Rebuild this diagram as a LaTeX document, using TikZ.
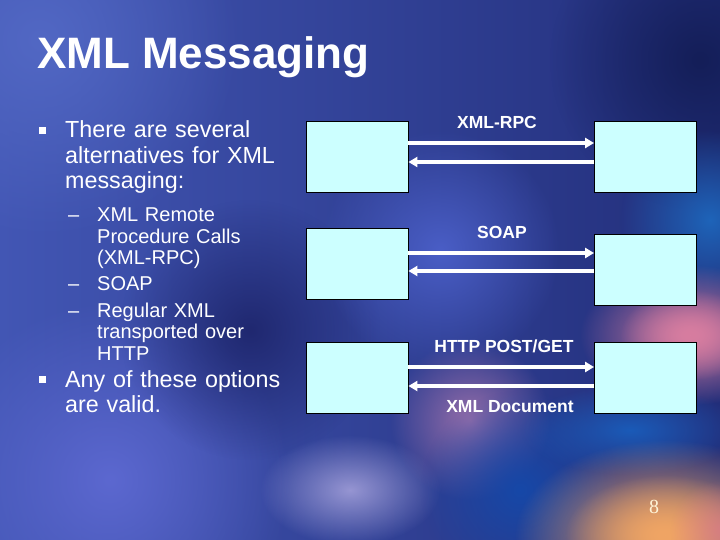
\documentclass[tikz,border=0pt]{standalone}
\usepackage{fontspec}
\setmainfont{Liberation Sans}
\newfontfamily\numfont{Liberation Serif}
\usetikzlibrary{arrows.meta,fadings}

\definecolor{fondoizq}{RGB}{66,86,180}
\definecolor{fondoder}{RGB}{34,46,122}
\definecolor{cian}{RGB}{204,255,255}
\definecolor{crema}{RGB}{255,244,215}

\tikzfading[name=difuso, inner color=transparent!0, outer color=transparent!100]

\begin{document}
\begin{tikzpicture}[x=1pt,y=-1pt,
        caja/.style={draw=black, line width=0.8pt, fill=cian, minimum width=102pt, minimum height=71pt, inner sep=0pt},
        flecha/.style={draw=white, line width=4pt, -{Triangle[length=9pt,width=10pt]}},
        etiqueta/.style={text=white, font=\bfseries\fontsize{17.5}{19}\selectfont, inner sep=0pt, anchor=base},
        vineta/.style={text=white, font=\fontsize{23.3}{25.5}\selectfont, inner sep=0pt, anchor=base west, text width=250pt, align=left},
        subvineta/.style={text=white, font=\fontsize{20}{21.5}\selectfont, inner sep=0pt, anchor=base west, text width=180pt, align=left},
        mancha/.style={path fading=difuso}
    ]
    % --- FONDO ---
    \useasboundingbox (0,0) rectangle (720,540);
    \shade[left color=fondoizq, right color=fondoder] (0,0) rectangle (720,540);
    \fill[color={rgb,255:red,82;green,104;blue,196}, mancha] (40,40) circle (200);
    \fill[color={rgb,255:red,92;green,104;blue,208}, mancha] (110,480) circle (180);
    \fill[color={rgb,255:red,26;green,32;blue,100}, opacity=0.8, mancha] (250,330) circle (130);
    \fill[color={rgb,255:red,74;green,94;blue,198}, mancha] (440,250) circle (120);
    \fill[color={rgb,255:red,20;green,30;blue,88}, mancha] (700,60) circle (150);
    \fill[color={rgb,255:red,30;green,100;blue,185}, mancha] (710,220) circle (90);
    \fill[color={rgb,255:red,175;green,170;blue,225}, opacity=0.8, mancha] (350,490) ellipse (90 and 55);
    \fill[color={rgb,255:red,150;green,110;blue,170}, mancha] (470,420) circle (80);
    \fill[color={rgb,255:red,215;green,125;blue,160}, mancha] (690,335) ellipse (110 and 70);
    \fill[color={rgb,255:red,215;green,125;blue,160}, mancha] (690,335) ellipse (70 and 45);
    \fill[color={rgb,255:red,22;green,72;blue,168}, mancha] (520,490) circle (100);
    \fill[color={rgb,255:red,25;green,95;blue,190}, opacity=0.9, mancha] (630,430) ellipse (110 and 45);
    \fill[color={rgb,255:red,240;green,165;blue,100}, mancha] (665,535) ellipse (150 and 95);
    \fill[color={rgb,255:red,240;green,165;blue,100}, mancha] (665,535) ellipse (100 and 60);
    \fill[color={rgb,255:red,220;green,120;blue,140}, opacity=0.7, mancha] (720,530) circle (50);

    % --- TEXTO ---
    \node[text=white, font=\bfseries\fontsize{44}{48}\selectfont, inner sep=0pt, anchor=base west] (titulo) at (37,69) {XML Messaging};

    \node[vineta] (v1) at (65,138) {\llap{\rule[4pt]{7pt}{7pt}\hspace{19pt}}There are several\\alternatives for XML\\messaging:};
    \node[subvineta] (s1) at (97,222) {\llap{–\hspace{18pt}}XML Remote\\Procedure Calls\\(XML-RPC)};
    \node[subvineta] (s2) at (97,290) {\llap{–\hspace{18pt}}SOAP};
    \node[subvineta] (s3) at (97,317) {\llap{–\hspace{18pt}}Regular XML\\transported over\\HTTP};
    \node[vineta] (v2) at (65,387) {\llap{\rule[4pt]{7pt}{7pt}\hspace{19pt}}Any of these options\\are valid.};

    % --- CAJAS ---
    \node[caja] (A1) at (357,156.5) {};
    \node[caja] (B1) at (645.5,156.5) {};
    \node[caja] (A2) at (357,264) {};
    \node[caja] (B2) at (645.5,270) {};
    \node[caja] (A3) at (357,378) {};
    \node[caja] (B3) at (645.5,378) {};

    % --- FLECHAS ---
    \draw[flecha] ([yshift=13.5pt]A1.east) -- ([yshift=13.5pt]A1.east -| B1.west);
    \draw[flecha] ([yshift=-5.5pt]B1.west) -- ([yshift=-5.5pt]B1.west -| A1.east);
    \draw[flecha] ([yshift=11pt]A2.east) -- ([yshift=11pt]A2.east -| B2.west);
    \draw[flecha] ([yshift=-1pt]B2.west) -- ([yshift=-1pt]B2.west -| A2.east);
    \draw[flecha] ([yshift=11pt]A3.east) -- ([yshift=11pt]A3.east -| B3.west);
    \draw[flecha] ([yshift=-8pt]B3.west) -- ([yshift=-8pt]B3.west -| A3.east);

    \node[etiqueta] (e1) at (497,129) {XML-RPC};
    \node[etiqueta] (e2) at (502,238) {SOAP};
    \node[etiqueta] (e3) at (504,352) {HTTP POST/GET};
    \node[etiqueta] (e4) at (510,412) {XML Document};

    \node[text=crema, font=\numfont\fontsize{20}{22}\selectfont, inner sep=0pt, anchor=base] (pagina) at (654,513) {8};
\end{tikzpicture}
\end{document}
